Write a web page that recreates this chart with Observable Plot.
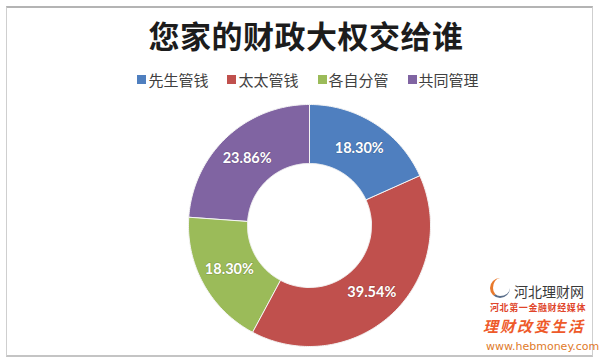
<!DOCTYPE html>
<html><head><meta charset="utf-8">
<script src="https://cdn.jsdelivr.net/npm/d3@7"></script>
<script src="https://cdn.jsdelivr.net/npm/@observablehq/plot@0.6"></script>
<style>
body{margin:0;background:#fff;}
#wrap{position:relative;width:600px;height:362px;overflow:hidden;background:#fff;}
#frame{position:absolute;left:6px;top:6px;width:585px;height:347px;border:1px solid #cfcfcf;border-top:2px solid #b4b4b4;border-bottom:2px solid #c4c4c4;}
#chart{position:absolute;left:0;top:0;}
#title{position:absolute;left:0;top:12px;width:612px;text-align:center;font:700 31px "Noto Sans CJK SC";color:#1c1c1c;letter-spacing:0.5px;}
#legend{position:absolute;left:0;top:64px;width:616px;}
#legend .lg-swatches{margin:0;}
#legend .lg-swatches-wrap{justify-content:center;min-height:30px;}
#legend .lg-swatch{margin-right:19px;}
#legend .lg-swatch:last-child{margin-right:0;}
#legend .lg-swatch > svg{margin-right:2px;}
.wm{position:absolute;white-space:nowrap;line-height:1;}
</style>
</head><body>
<div id="wrap">
  <div id="frame"></div>
  <div id="chart"></div>
  <div id="title"></div>
  <div id="legend"></div>
  <div class="wm" style="left:490px;top:278px;width:20px;height:20px;border-radius:50%;border-left:3px solid #e8792c;border-bottom:2px solid #5a6e8a;box-sizing:border-box;"></div>
  <div class="wm" id="wm1" style="left:514px;top:281px;font:400 14px 'Noto Sans CJK SC';color:#3a3a3a;"></div>
  <div class="wm" id="wm2" style="left:490px;top:301px;font:700 9px 'Noto Sans CJK SC';color:#e0452a;letter-spacing:0.6px;"></div>
  <div class="wm" id="wm3" style="left:483px;top:315px;font:italic 700 15px 'Noto Sans CJK SC';color:#ee5a2a;letter-spacing:2px;"></div>
  <div class="wm" id="wm4" style="left:486px;top:340px;font:400 11px 'DejaVu Sans';color:#e07a2a;"></div>
</div>
<script>
const titleText = "您家的财政大权交给谁";
const categories = ["先生管钱", "太太管钱", "各自分管", "共同管理"];
const values = [18.30, 39.54, 18.30, 23.86];
const colors = ["#4f7fbf", "#c0504d", "#9bbb59", "#8064a2"];
const watermark = ["河北理财网", "河北第一金融财经媒体", "理财改变生活", "www.hebmoney.com"];

document.getElementById("title").textContent = titleText;
["wm1","wm2","wm3","wm4"].forEach((id, i) => document.getElementById(id).textContent = watermark[i]);

const W = 600, H = 362, cx = 309, cy = 225, R = 121, rInner = 62 / 121;
const total = d3.sum(values);

// Build ring-slice outlines from the data (angles measured clockwise from 12 o'clock)
const pts = [];
const labels = [];
let cum = 0;
categories.forEach((name, i) => {
  const a0 = cum / total * 2 * Math.PI;
  cum += values[i];
  const a1 = cum / total * 2 * Math.PI;
  const n = Math.max(2, Math.ceil((a1 - a0) * 180 / Math.PI));
  for (let k = 0; k <= n; k++) {
    const a = a0 + (a1 - a0) * k / n;
    pts.push({name, x: Math.sin(a), y: Math.cos(a)});
  }
  for (let k = n; k >= 0; k--) {
    const a = a0 + (a1 - a0) * k / n;
    pts.push({name, x: rInner * Math.sin(a), y: rInner * Math.cos(a)});
  }
  const am = (a0 + a1) / 2, rm = (1 + rInner) / 2;
  labels.push({name, x: rm * Math.sin(am), y: rm * Math.cos(am), label: values[i].toFixed(2) + "%"});
});

const chart = Plot.plot({
  width: W, height: H, margin: 0,
  x: {domain: [-cx / R, (W - cx) / R], axis: null},
  y: {domain: [-(H - cy) / R, cy / R], axis: null},
  color: {domain: categories, range: colors},
  style: {background: "transparent"},
  marks: [
    Plot.line(pts, {x: "x", y: "y", z: "name", fill: "name", stroke: "#f4f4f4", strokeWidth: 1, curve: "linear-closed"}),
    Plot.text(labels, {x: "x", y: "y", text: "label", fill: "white", fontSize: 14.5, fontWeight: "bold", fontFamily: "Lato", stroke: "rgba(0,0,0,0.15)", strokeWidth: 1.5, paintOrder: "stroke"})
  ]
});
document.getElementById("chart").appendChild(chart);

const legend = Plot.legend({
  color: {domain: categories, range: colors},
  legend: "swatches",
  swatchSize: 9,
  className: "lg",
  style: {fontFamily: "'Noto Sans CJK SC'", fontSize: "15px", color: "#404040"}
});
document.getElementById("legend").appendChild(legend);
</script>
</body></html>
